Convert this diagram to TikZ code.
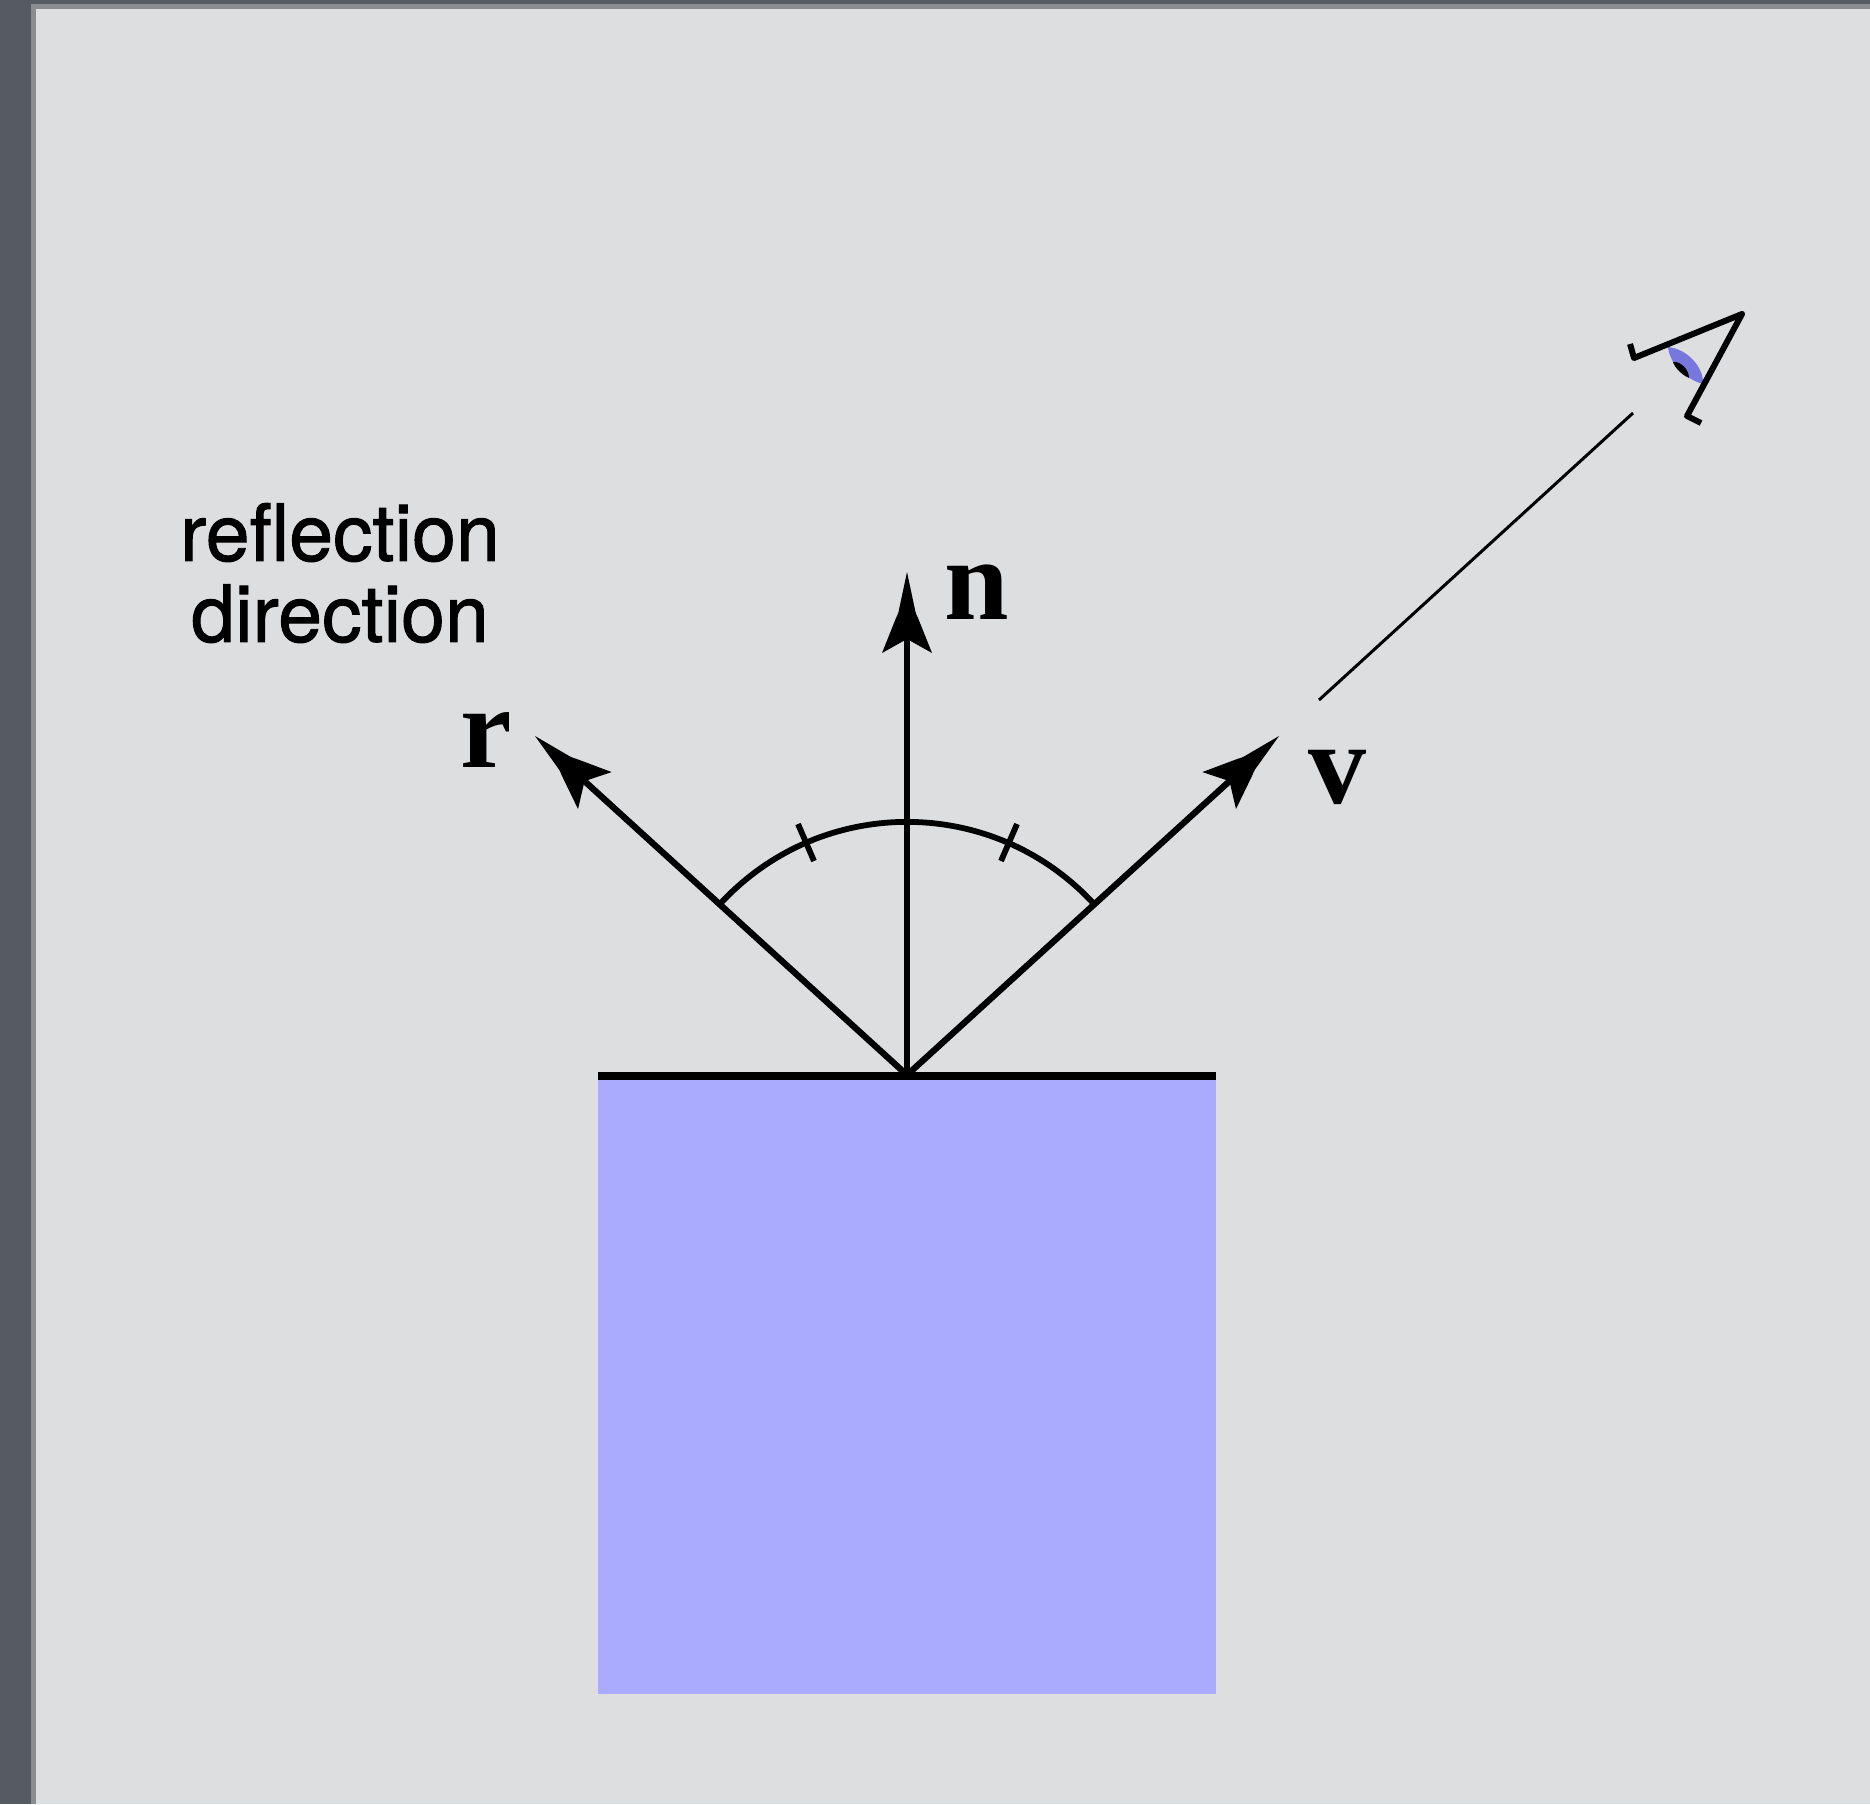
\documentclass[tikz,border=0pt]{standalone}
\usepackage{fontspec}
\setmainfont{TeX Gyre Heros}[AutoFakeBold=1.2]
\newfontfamily\vecfont{Liberation Serif}[BoldFont={Liberation Serif Bold}]
\usetikzlibrary{arrows.meta}
\pgfdeclarearrow{
  name=BarbHead,
  setup code={
    \pgfarrowssettipend{0pt}
    \pgfarrowssetlineend{-60pt}
    \pgfarrowssetvisualbackend{-60pt}
    \pgfarrowssetbackend{-81pt}
  },
  drawing code={
    \pgfpathmoveto{\pgfpoint{0pt}{0pt}}
    \pgfpathlineto{\pgfpoint{-40pt}{8.5pt}}
    \pgfpathcurveto{\pgfpoint{-42pt}{9pt}}{\pgfpoint{-44pt}{10pt}}{\pgfpoint{-46pt}{11pt}}
    \pgfpathlineto{\pgfpoint{-81pt}{25pt}}
    \pgfpathlineto{\pgfpoint{-67pt}{0pt}}
    \pgfpathlineto{\pgfpoint{-81pt}{-25pt}}
    \pgfpathlineto{\pgfpoint{-46pt}{-11pt}}
    \pgfpathcurveto{\pgfpoint{-44pt}{-10pt}}{\pgfpoint{-42pt}{-9pt}}{\pgfpoint{-40pt}{-8.5pt}}
    \pgfpathclose
    \pgfusepathqfill
  }
}
\definecolor{chrome}{HTML}{565B63}
\definecolor{chromeedge}{HTML}{898D90}
\definecolor{panel}{HTML}{DDDEE0}
\definecolor{blockblue}{HTML}{AAAAFF}
\definecolor{iris}{HTML}{7777DD}
\tikzset{
  ray/.style={line width=6.3pt,-{BarbHead}},
  arcline/.style={line width=5.8pt},
  tickmark/.style={line width=5.8pt},
  sight/.style={line width=3pt},
  eyeline/.style={line width=6pt,line join=round},
  vec/.style={font=\vecfont\bfseries\fontsize{116}{116}\selectfont,inner sep=0pt,anchor=base west},
  caption/.style={font=\bfseries\fontsize{79}{81}\selectfont,inner sep=0pt,align=center}
}
\begin{document}
\begin{tikzpicture}[x=1pt,y=-1pt]
\useasboundingbox (0,0) rectangle (1870,1804);
% window frame
\fill[chrome] (0,0) rectangle (1870,1804);
\fill[chromeedge] (31,4) rectangle (1870,1804);
\fill[panel] (36,9) rectangle (1870,1804);
% solid block and surface
\fill[blockblue] (598,1076) rectangle (1216,1694);
\coordinate (surfL) at (598,1076);
\coordinate (surfR) at (1216,1076);
\draw[line width=8.5pt] (surfL) -- (surfR);
% rays
\coordinate (apex) at (907,1075);
\coordinate (ntip) at (907,572);
\coordinate (vtip) at (1279,736);
\coordinate (rtip) at (535,736);
\draw[ray] (apex) -- (ntip);
\draw[ray] (apex) -- (vtip);
\draw[ray] (apex) -- (rtip);
% equal-angle arc and ticks
\coordinate (arcL) at (720,904);
\coordinate (arcR) at (1094,904);
\draw[arcline] (arcL) .. controls (820.7,794.5) and (993.3,794.5) .. (arcR);
\coordinate (tickLa) at (798,824);
\coordinate (tickLb) at (814,861);
\coordinate (tickRa) at (1017,824);
\coordinate (tickRb) at (1001,861);
\draw[tickmark] (tickLa) -- (tickLb);
\draw[tickmark] (tickRa) -- (tickRb);
% line of sight
\coordinate (sightA) at (1319,700);
\coordinate (sightB) at (1633,413);
\draw[sight] (sightA) -- (sightB);
% eye
\fill[iris] (1668,347) .. controls (1688,349) and (1704,368) .. (1703,384)
  .. controls (1688,380) and (1670,366) .. cycle;
\fill[black] (1673,362) .. controls (1680,361) and (1689,369) .. (1689,378)
  .. controls (1682,375) and (1675,368) .. cycle;
\draw[eyeline] (1630,344) -- (1634,358) -- (1742,314) -- (1687,416) -- (1701,423);
% labels
\node[vec] (nlabel) at (944,619) {n};
\node[vec] (rlabel) at (460,767) {r};
\node[vec] (vlabel) at (1308,803) {v};
\node[caption] (reflabel) at (340,573) {reflection\\direction};
\end{tikzpicture}
\end{document}
